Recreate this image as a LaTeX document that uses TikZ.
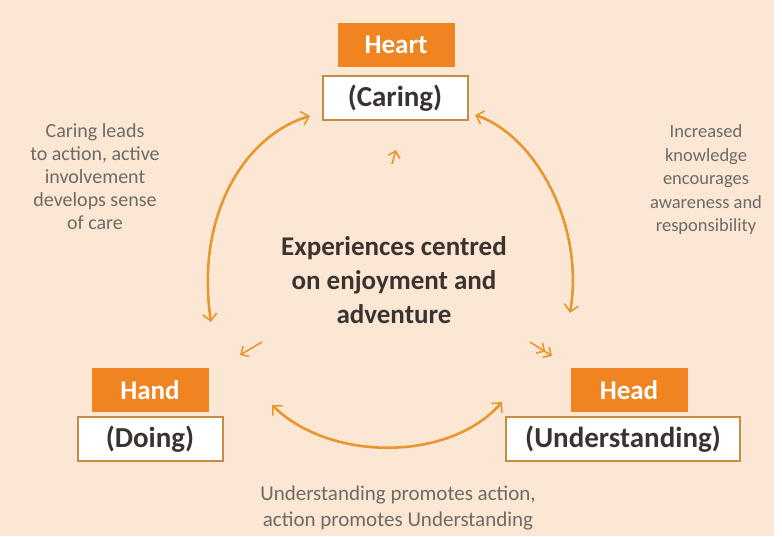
\documentclass[tikz,border=0pt]{standalone}
\usepackage{fontspec}
\setmainfont{Carlito}
\usetikzlibrary{arrows.meta}
\definecolor{peach}{HTML}{FBE7D4}
\definecolor{boxorange}{HTML}{EF8420}
\definecolor{arcorange}{HTML}{E9962F}
\definecolor{frame}{HTML}{C98A48}
\definecolor{sidegray}{HTML}{6E6A66}
\definecolor{darktext}{HTML}{3B3330}
\tikzset{
  titlebox/.style={fill=boxorange, text=white, font=\fontsize{27}{30}\selectfont\bfseries, minimum width=117pt, minimum height=44pt, inner sep=0pt},
  subbox/.style={fill=white, draw=frame, line width=2pt, text=darktext, font=\fontsize{29}{32}\selectfont\bfseries, minimum height=44pt, inner sep=0pt},
  sidetext/.style={text=sidegray, align=center},
  arc/.style={draw=arcorange, line width=2.6pt, {Straight Barb[length=7pt,width=14pt,line width=1.6pt]}-{Straight Barb[length=7pt,width=14pt,line width=1.6pt]}},
  chev/.style={draw=arcorange, line width=1.6pt, -{Straight Barb[length=6pt,width=12pt,line width=1.6pt]}},
}
\begin{document}
\begin{tikzpicture}[x=1pt,y=-1pt]
\useasboundingbox (0,0) rectangle (782,536);
\fill[white] (0,0) rectangle (782,536);
\fill[peach] (0,0) rectangle (774,536);

\node[titlebox] (heart) at (396,45) {Heart};
\node[subbox, minimum width=145pt] (caring) at (395,98) {(Caring)};
\node[titlebox] (hand) at (150,390) {Hand};
\node[subbox, minimum width=145pt] (doing) at (150,439) {(Doing)};
\node[titlebox] (head) at (629,390) {Head};
\node[subbox, minimum width=234pt] (underst) at (623,439) {(Understanding)};

\node[text=darktext, align=center, font=\fontsize{27}{34}\selectfont\bfseries] (center) at (394,280) {Experiences centred\\on enjoyment and\\adventure};

\node[sidetext, font=\fontsize{20}{23}\selectfont] (lefttext) at (95,177) {Caring leads\\to action, active\\involvement\\develops sense\\of care};
\node[sidetext, font=\fontsize{18.5}{23.5}\selectfont] (righttext) at (706,180) {Increased\\knowledge\\encourages\\awareness and\\responsibility};
\node[sidetext, font=\fontsize{21}{26}\selectfont] (bottomtext) at (398,508) {Understanding promotes action,\\action promotes Understanding};

\coordinate (l1) at (310,116);
\coordinate (l2) at (211,322);
\coordinate (r1) at (475,115);
\coordinate (r2) at (570,313);
\coordinate (b1) at (272,405);
\coordinate (b2) at (502,402);

\draw[arc] (l1) .. controls (245,135) and (195,215) .. (l2);
\draw[arc] (r1) .. controls (535,135) and (585,225) .. (r2);
\draw[arc] (b1) .. controls (330,462) and (450,462) .. (b2);

\coordinate (c1s) at (392,164);
\coordinate (c1e) at (396,150);
\coordinate (c2s) at (262,342);
\coordinate (c2e) at (240,355);
\coordinate (c3s) at (530,342);
\coordinate (c3e) at (552,356);
\draw[chev] (c1s) -- (c1e);
\draw[chev] (c2s) -- (c2e);
\draw[draw=arcorange, line width=1.6pt, -{Straight Barb[length=6pt,width=12pt,line width=1.6pt] Straight Barb[length=6pt,width=12pt,line width=1.6pt]}] (c3s) -- (c3e);
\end{tikzpicture}
\end{document}
